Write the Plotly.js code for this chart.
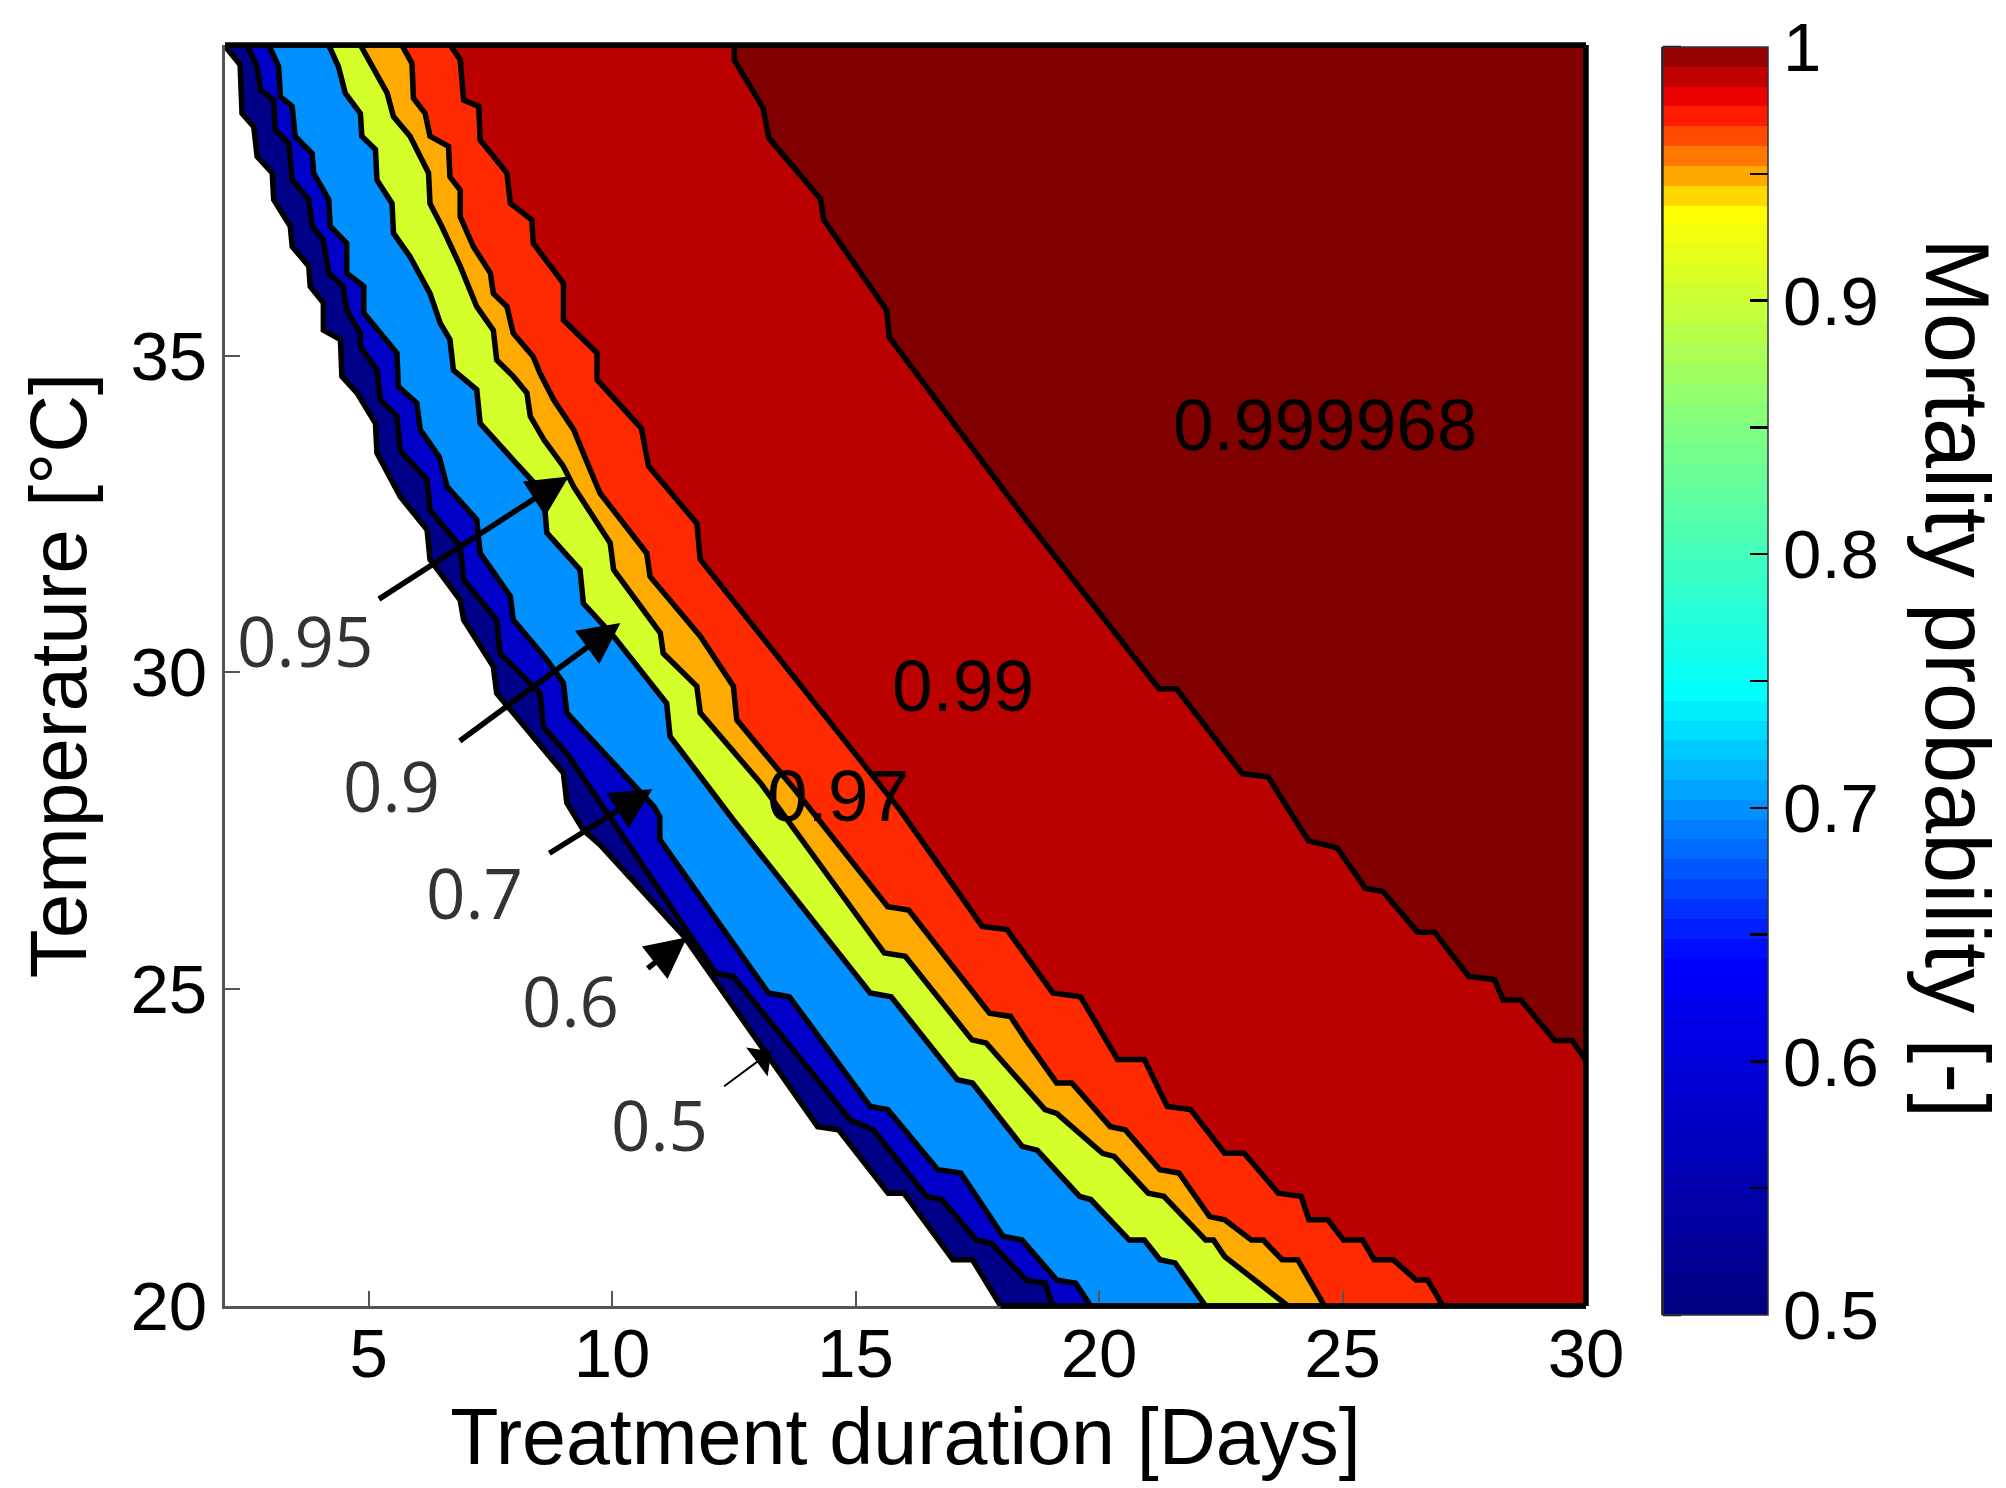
<!DOCTYPE html>
<html><head><meta charset="utf-8">
<script src="https://cdn.plot.ly/plotly-3.0.1.min.js"></script>
<style>html,body{margin:0;padding:0;background:#fff}</style>
</head><body><div id="chart" style="width:2006px;height:1488px"></div>
<script>
// ---------------- DATA ----------------
// Contour levels of mortality probability
const levels = [0.5, 0.6, 0.7, 0.9, 0.95, 0.97, 0.99, 0.999968];

// Each contour line: treatment duration [days] (x) vs temperature [°C] (y)
const dur_050  = [2.03, 2.36, 2.40, 2.64, 2.71, 3.02, 3.05, 3.39, 3.43, 3.77, 3.80, 4.07, 4.07, 4.42, 4.45, 4.76, 5.14, 5.17, 5.65, 6.20, 6.26, 6.88, 6.95, 7.56, 7.63, 7.97, 9.00, 9.07, 9.41, 9.75, 11.48, 14.22, 14.65, 15.67, 15.99, 17.00, 17.40, 17.98];
const temp_050 = [39.90, 39.59, 38.82, 38.61, 38.14, 37.88, 37.46, 37.04, 36.72, 36.41, 36.09, 35.83, 35.40, 35.25, 34.67, 34.41, 33.93, 33.46, 32.77, 32.25, 31.78, 31.14, 30.83, 30.09, 29.67, 29.36, 28.41, 27.94, 27.51, 27.28, 25.83, 22.83, 22.78, 21.78, 21.78, 20.73, 20.73, 20.0];

const dur_060  = [2.50, 2.71, 2.78, 3.05, 3.08, 3.36, 3.43, 3.77, 3.84, 4.07, 4.18, 4.48, 4.55, 4.83, 4.83, 5.17, 5.24, 5.58, 5.65, 6.20, 6.26, 6.88, 6.95, 7.63, 7.70, 8.52, 8.59, 9.07, 12.13, 12.49, 14.89, 15.36, 16.46, 16.77, 17.48, 17.79, 18.50, 18.89, 19.05];
const temp_060 = [39.90, 39.56, 39.19, 39.03, 38.56, 38.35, 37.77, 37.46, 37.04, 36.82, 36.30, 36.09, 35.72, 35.35, 35.14, 34.77, 34.30, 34.04, 33.50, 33.04, 32.56, 31.99, 31.46, 30.83, 30.30, 29.67, 29.14, 28.72, 25.25, 25.20, 22.94, 22.78, 21.73, 21.68, 21.04, 20.99, 20.41, 20.36, 20.0];

const dur_070  = [2.95, 3.15, 3.19, 3.43, 3.49, 3.84, 3.87, 4.18, 4.21, 4.55, 4.55, 4.90, 4.90, 5.58, 5.61, 5.99, 6.06, 6.45, 6.61, 7.22, 7.29, 7.91, 7.97, 8.66, 9.00, 9.07, 10.86, 10.98, 10.98, 13.21, 13.64, 15.30, 15.66, 16.69, 17.16, 18.03, 18.42, 19.13, 19.52, 19.83];
const temp_070 = [39.90, 39.56, 39.08, 38.93, 38.46, 38.19, 37.88, 37.46, 37.04, 36.77, 36.30, 36.09, 35.67, 35.04, 34.51, 34.25, 33.83, 33.40, 32.93, 32.41, 31.88, 31.20, 30.83, 30.20, 29.83, 29.36, 27.88, 27.72, 27.36, 24.94, 24.88, 23.15, 23.10, 22.15, 22.10, 21.10, 21.04, 20.41, 20.36, 20.0];

const dur_090  = [4.18, 4.38, 4.52, 4.83, 4.86, 5.14, 5.17, 5.48, 5.51, 5.85, 6.26, 6.47, 6.67, 6.74, 7.22, 7.29, 7.97, 8.59, 8.66, 9.34, 9.41, 10.03, 11.12, 11.19, 12.49, 15.30, 15.73, 17.09, 17.40, 18.42, 18.73, 19.60, 19.83, 20.62, 20.93, 21.25, 21.56, 22.19];
const temp_090 = [39.90, 39.56, 39.14, 38.82, 38.46, 38.25, 37.77, 37.40, 36.93, 36.56, 35.98, 35.51, 35.25, 34.77, 34.46, 33.93, 33.35, 32.83, 32.20, 31.62, 31.09, 30.57, 29.51, 28.99, 27.67, 24.94, 24.88, 23.57, 23.52, 22.52, 22.46, 21.73, 21.68, 21.04, 21.04, 20.73, 20.68, 20.0];

const dur_095  = [4.83, 5.07, 5.38, 5.51, 5.85, 6.23, 6.26, 6.50, 6.88, 7.22, 7.56, 7.63, 7.97, 8.25, 8.32, 8.60, 9.00, 9.21, 9.96, 10.03, 10.99, 11.05, 11.74, 11.81, 13.05, 15.59, 16.02, 17.39, 17.68, 18.89, 19.13, 20.07, 20.31, 21.01, 21.33, 22.19, 22.35, 22.58, 23.88];
const temp_095 = [39.90, 39.56, 39.14, 38.77, 38.46, 37.88, 37.40, 37.04, 36.41, 35.77, 35.40, 34.93, 34.67, 34.41, 34.04, 33.67, 33.25, 32.93, 32.04, 31.62, 30.62, 30.30, 29.78, 29.36, 28.25, 25.57, 25.52, 24.20, 24.15, 23.10, 23.04, 22.41, 22.36, 21.78, 21.73, 21.04, 21.04, 20.78, 20.0];

const dur_097  = [5.68, 5.89, 5.92, 6.16, 6.26, 6.64, 6.67, 6.88, 6.88, 7.15, 7.50, 7.56, 7.84, 7.97, 8.38, 8.52, 8.80, 9.21, 9.45, 9.75, 10.71, 10.78, 11.81, 12.49, 12.56, 13.75, 15.66, 16.09, 17.75, 18.18, 18.50, 19.13, 19.44, 20.23, 20.54, 21.25, 21.64, 22.27, 22.58, 23.13, 23.37, 23.76, 24.08, 24.63];
const temp_097 = [39.90, 39.61, 39.06, 38.82, 38.46, 38.30, 37.82, 37.61, 37.19, 36.72, 36.30, 35.98, 35.77, 35.35, 34.98, 34.72, 34.30, 33.83, 33.38, 32.83, 31.88, 31.51, 30.57, 29.78, 29.25, 28.15, 26.30, 26.25, 24.62, 24.57, 24.20, 23.52, 23.52, 22.83, 22.78, 22.15, 22.10, 21.41, 21.36, 21.04, 21.04, 20.73, 20.73, 20.0];

const dur_099  = [6.67, 6.88, 6.95, 7.26, 7.29, 7.84, 7.91, 8.35, 8.38, 9.00, 9.00, 9.69, 9.69, 10.60, 10.75, 11.74, 11.81, 15.91, 17.60, 18.11, 19.05, 19.62, 20.38, 20.93, 21.40, 21.88, 22.58, 22.98, 23.68, 24.15, 24.31, 24.70, 25.02, 25.41, 25.65, 26.04, 26.51, 26.75, 27.06];
const temp_099 = [39.90, 39.67, 39.03, 38.93, 38.40, 37.88, 37.40, 37.14, 36.77, 36.14, 35.56, 35.04, 34.62, 33.85, 33.25, 32.35, 31.78, 27.83, 25.99, 25.94, 24.94, 24.88, 23.89, 23.89, 23.15, 23.10, 22.41, 22.41, 21.78, 21.73, 21.36, 21.36, 21.04, 21.04, 20.73, 20.73, 20.41, 20.41, 20.0];

const dur_top  = [12.51, 12.51, 13.10, 13.22, 14.28, 14.34, 15.64, 15.69, 18.40, 21.23, 21.59, 22.94, 23.47, 24.30, 24.89, 25.47, 25.83, 26.54, 26.89, 27.59, 28.12, 28.30, 28.66, 29.36, 29.72, 30.0];
const temp_top = [39.90, 39.66, 38.91, 38.43, 37.47, 37.15, 35.71, 35.29, 32.51, 29.74, 29.74, 28.40, 28.35, 27.34, 27.23, 26.59, 26.54, 25.90, 25.90, 25.20, 25.15, 24.83, 24.83, 24.19, 24.19, 23.87];

// Contour labels placed inside the field
const innerLabelText = ['0.999968', '0.99', '0.97'];
const innerLabelDur  = [24.65, 17.20, 14.64];
const innerLabelTemp = [33.91, 29.79, 28.05];

// Labels outside the field, with arrows pointing at their bands
const sideLabelText = ['0.95', '0.9', '0.7', '0.6', '0.5'];
const sideLabelDur  = [3.70, 5.47, 7.18, 9.15, 10.98];
const sideLabelTemp = [30.51, 28.22, 26.54, 24.83, 22.87];
const arrowTailDur  = [5.18, 6.84, 8.68, 10.70, 12.27];
const arrowTailTemp = [31.14, 28.90, 27.13, 25.31, 23.45];
const arrowHeadDur  = [9.11, 10.17, 10.83, 11.54, 13.27];
const arrowHeadTemp = [33.09, 30.78, 28.16, 25.82, 24.02];

// Tick labels
const xTicks = [5, 10, 15, 20, 25, 30];
const yTicks = [20, 25, 30, 35];
const cbTicks = [0.5, 0.55, 0.6, 0.65, 0.7, 0.75, 0.8, 0.85, 0.9, 0.95, 1.0];
const cbTickText = ['0.5', '', '0.6', '', '0.7', '', '0.8', '', '0.9', '', '1'];

// ---------------- STYLE ----------------
const fillColors = ['#000088', '#0000C8', '#0090FF', '#D4FF2A', '#FFAA00', '#FF2A00', '#BB0000', '#800000'];
const cmapKeys = [[0.5, [0, 0, 128]], [0.64, [0, 0, 255]], [0.745, [0, 255, 255]], [0.85, [128, 255, 128]],
                  [0.935, [255, 255, 0]], [0.977, [255, 0, 0]], [1.0, [128, 0, 0]]];
const X_RANGE = [2.05, 30];
const Y_RANGE = [20, 39.9];
const FONT = 'Liberation Sans, Arial, sans-serif';
const LW = 5.5;

function cmapAt(v) {
  for (let i = 0; i < cmapKeys.length - 1; i++) {
    const [a, ca] = cmapKeys[i], [b, cb] = cmapKeys[i + 1];
    if (v <= b || i === cmapKeys.length - 2) {
      const t = Math.max(0, Math.min(1, (v - a) / (b - a)));
      const c = ca.map((k, j) => Math.round(k + t * (cb[j] - k)));
      return 'rgb(' + c.join(',') + ')';
    }
  }
}
// 64-step banded colour scale like the reference colour bar
const NB = 64, cscale = [];
for (let i = 0; i < NB; i++) {
  const c = cmapAt(0.5 + 0.5 * (i + 0.5) / NB);
  cscale.push([i / NB, c]); cscale.push([(i + 1) / NB, c]);
}

const lines = [
  [dur_050, temp_050], [dur_060, temp_060], [dur_070, temp_070], [dur_090, temp_090],
  [dur_095, temp_095], [dur_097, temp_097], [dur_099, temp_099], [dur_top, temp_top]
];

const traces = [];
lines.forEach(([xs, ys], k) => {
  const px = xs.slice(), py = ys.slice();
  if (py[py.length - 1] <= Y_RANGE[0]) { px.push(X_RANGE[1]); py.push(Y_RANGE[0]); }
  px.push(X_RANGE[1]); py.push(Y_RANGE[1]);
  px.push(xs[0]); py.push(ys[0]);
  traces.push({
    type: 'scatter', mode: 'lines', x: px, y: py, fill: 'toself',
    fillcolor: fillColors[k], line: {color: '#000', width: LW},
    hoverinfo: 'skip', showlegend: false, name: String(levels[k])
  });
});

// colour bar carrier
const W = 2006, H = 1488, ML = 225, MR = 420, MT = 45, MB = 182;
const PW = W - ML - MR, PH = H - MT - MB;
const cbLeftPx = 1663, cbTopPx = 47, cbBotPx = 1315, cbThick = 105;
const cbX = (cbLeftPx - ML) / PW;
const yPaper = Y => (H - MB - Y) / PH;
traces.push({
  type: 'scatter', mode: 'markers', x: [null], y: [null], hoverinfo: 'skip', showlegend: false,
  marker: {
    color: [0.5], cmin: 0.5, cmax: 1, colorscale: cscale, showscale: true, size: 0,
    colorbar: {
      x: cbX, xanchor: 'left', xref: 'paper', xpad: 0,
      y: yPaper(cbTopPx), yanchor: 'top', ypad: 0,
      len: cbBotPx - cbTopPx, lenmode: 'pixels',
      thickness: cbThick, thicknessmode: 'pixels',
      outlinewidth: 1.5, outlinecolor: '#333',
      ticks: 'inside', ticklen: 18, tickwidth: 2.5, tickcolor: '#000',
      tickvals: cbTicks, ticktext: cbTickText,
      tickfont: {family: FONT, size: 69, color: '#000'}
    }
  }
});

const shapes = [];
// left-side ticks and border of the colour bar
cbTicks.forEach(v => {
  const Y = cbTopPx + (1 - v) / 0.5 * (cbBotPx - cbTopPx);
  shapes.push({type: 'line', xref: 'paper', yref: 'paper', x0: cbX, x1: cbX + 18 / PW,
    y0: yPaper(Y), y1: yPaper(Y), line: {color: '#000', width: 2.5}});
});
shapes.push({type: 'line', xref: 'paper', yref: 'paper', x0: cbX, x1: cbX,
  y0: yPaper(cbTopPx), y1: yPaper(cbBotPx), line: {color: '#000', width: 3.5}});
// black patch edges along the top, right and (coloured part of the) bottom border
shapes.push({type: 'line', xref: 'paper', yref: 'paper', x0: 0, x1: 1, y0: 1, y1: 1, line: {color: '#000', width: LW}});
shapes.push({type: 'line', xref: 'paper', yref: 'paper', x0: 1, x1: 1, y0: 0, y1: 1, line: {color: '#000', width: LW}});
shapes.push({type: 'line', xref: 'x', yref: 'paper', x0: dur_050[dur_050.length - 1], x1: X_RANGE[1], y0: 0, y1: 0,
  line: {color: '#000', width: LW}});

const annotations = [];
innerLabelText.forEach((t, i) => annotations.push({
  x: innerLabelDur[i], y: innerLabelTemp[i], xref: 'x', yref: 'y', text: t, showarrow: false,
  font: {family: FONT, size: 73, color: '#000'}
}));
sideLabelText.forEach((t, i) => {
  annotations.push({
    x: sideLabelDur[i], y: sideLabelTemp[i], xref: 'x', yref: 'y', text: t, showarrow: false,
    font: {family: 'Open Sans, sans-serif', size: 69, color: '#333'}
  });
  const thin = (t === '0.5');
  annotations.push({
    x: arrowHeadDur[i], y: arrowHeadTemp[i], xref: 'x', yref: 'y',
    ax: arrowTailDur[i], ay: arrowTailTemp[i], axref: 'x', ayref: 'y',
    text: '', showarrow: true, arrowhead: thin ? 1 : 2, arrowsize: thin ? 3 : 1.5,
    arrowwidth: thin ? 2 : 5.5, arrowcolor: '#000', standoff: 0, startstandoff: 0
  });
});
annotations.push({
  x: (1957 - ML) / PW, y: 0.498, xref: 'paper', yref: 'paper', text: 'Mortality probability [-]',
  textangle: 90, showarrow: false, xanchor: 'center', yanchor: 'middle',
  font: {family: FONT, size: 90, color: '#000'}
});

const layout = {
  width: W, height: H, margin: {l: ML, r: MR, t: MT, b: MB, pad: 0},
  paper_bgcolor: '#fff', plot_bgcolor: '#fff', showlegend: false,
  font: {family: FONT, color: '#000'},
  xaxis: {
    range: X_RANGE, tickvals: xTicks, ticks: 'inside', ticklen: 15, tickwidth: 2, tickcolor: '#555',
    showline: true, linecolor: '#555', linewidth: 3, showgrid: false, zeroline: false,
    tickfont: {family: FONT, size: 69, color: '#000'}, ticklabelstandoff: -15,
    title: {text: 'Treatment duration [Days]', font: {family: FONT, size: 79, color: '#000'}, standoff: 14}
  },
  yaxis: {
    range: Y_RANGE, tickvals: yTicks, ticks: 'inside', ticklen: 15, tickwidth: 2, tickcolor: '#555',
    showline: true, linecolor: '#555', linewidth: 3, showgrid: false, zeroline: false,
    tickfont: {family: FONT, size: 69, color: '#000'}, ticklabelstandoff: 1,
    title: {text: 'Temperature [°C]', font: {family: FONT, size: 80, color: '#000'}, standoff: 18}
  },
  shapes: shapes, annotations: annotations
};

Plotly.newPlot('chart', traces, layout, {displayModeBar: false, staticPlot: true});
</script>
</body></html>
